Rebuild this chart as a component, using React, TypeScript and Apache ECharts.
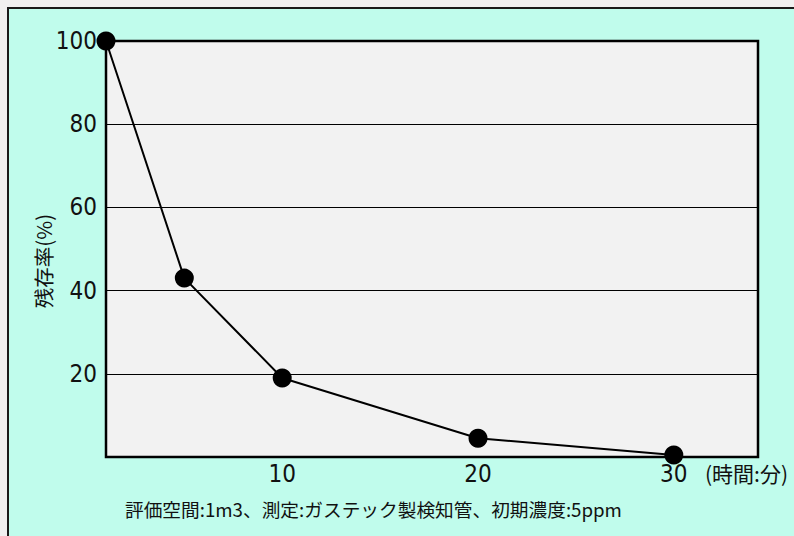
import React, { useEffect, useRef } from "react";
import * as echarts from "echarts";

const timeMinutes = [1, 5, 10, 20, 30];
const residualRate = [100, 43, 19, 4.5, 0.5];
const xTickLabels = [10, 20, 30];
const yAxisName = "残存率(%)";
const xAxisUnit = "(時間:分)";
const footNote = "評価空間:1m3、測定:ガステック製検知管、初期濃度:5ppm";

const TICK_FONT = "'DejaVu Sans Condensed', 'DejaVu Sans', sans-serif";
const JP_FONT = "'Noto Sans CJK JP', 'Noto Sans', sans-serif";

export default function App() {
  const ref = useRef<HTMLDivElement>(null);
  useEffect(() => {
    if (!ref.current) return;
    const chart = echarts.init(ref.current, undefined, { renderer: "svg" });
    chart.setOption({
      animation: false,
      grid: {
        left: 106,
        top: 41,
        right: 36,
        bottom: 79,
        containLabel: false,
        outerBoundsMode: "none",
        show: true,
        backgroundColor: "#f2f2f2",
        borderColor: "#000",
        borderWidth: 2.5,
      },
      xAxis: {
        type: "value",
        min: 1,
        max: 34.3,
        axisLine: { show: false },
        axisTick: { show: false },
        splitLine: { show: false },
        axisLabel: {
          customValues: xTickLabels,
          color: "#111",
          fontSize: 24,
          fontFamily: TICK_FONT,
          margin: 5,
        },
      },
      yAxis: {
        type: "value",
        min: 0,
        max: 100,
        interval: 20,
        axisLine: { show: false },
        axisTick: { show: false },
        splitLine: { show: true, lineStyle: { color: "#000", width: 1 } },
        axisLabel: {
          color: "#111",
          fontSize: 24,
          fontFamily: TICK_FONT,
          margin: 9,
          formatter: (v: number) => (v === 0 ? "" : String(v)),
        },
      },
      series: [
        {
          type: "line",
          data: timeMinutes.map((t, i) => [t, residualRate[i]]),
          symbol: "circle",
          symbolSize: 19,
          clip: false,
          itemStyle: { color: "#000" },
          lineStyle: { color: "#000", width: 2 },
          z: 5,
        },
      ],
      graphic: [
        {
          type: "text",
          x: 43,
          y: 261,
          rotation: Math.PI / 2,
          style: {
            text: yAxisName,
            fill: "#111",
            font: `20.5px ${JP_FONT}`,
            align: "center",
            verticalAlign: "middle",
          },
        },
        {
          type: "text",
          x: 705,
          y: 473,
          style: {
            text: xAxisUnit,
            fill: "#111",
            font: `21px ${JP_FONT}`,
            align: "left",
            verticalAlign: "middle",
          },
        },
        {
          type: "text",
          x: 125,
          y: 508,
          style: {
            text: footNote,
            fill: "#111",
            font: `18.7px ${JP_FONT}`,
            align: "left",
            verticalAlign: "middle",
          },
        },
      ],
    });
    return () => chart.dispose();
  }, []);

  return (
    <div
      style={{
        position: "fixed",
        left: 0,
        top: 0,
        width: 794,
        height: 536,
        overflow: "hidden",
        background: "#f0f0f0",
      }}
    >
      <div
        style={{
          position: "absolute",
          left: 7,
          top: 7,
          width: 820,
          height: 560,
          border: "2px solid #1a1a1a",
          background: "#c0fcec",
        }}
      />
      <div
        ref={ref}
        style={{ position: "absolute", left: 0, top: 0, width: 794, height: 536 }}
      />
    </div>
  );
}
